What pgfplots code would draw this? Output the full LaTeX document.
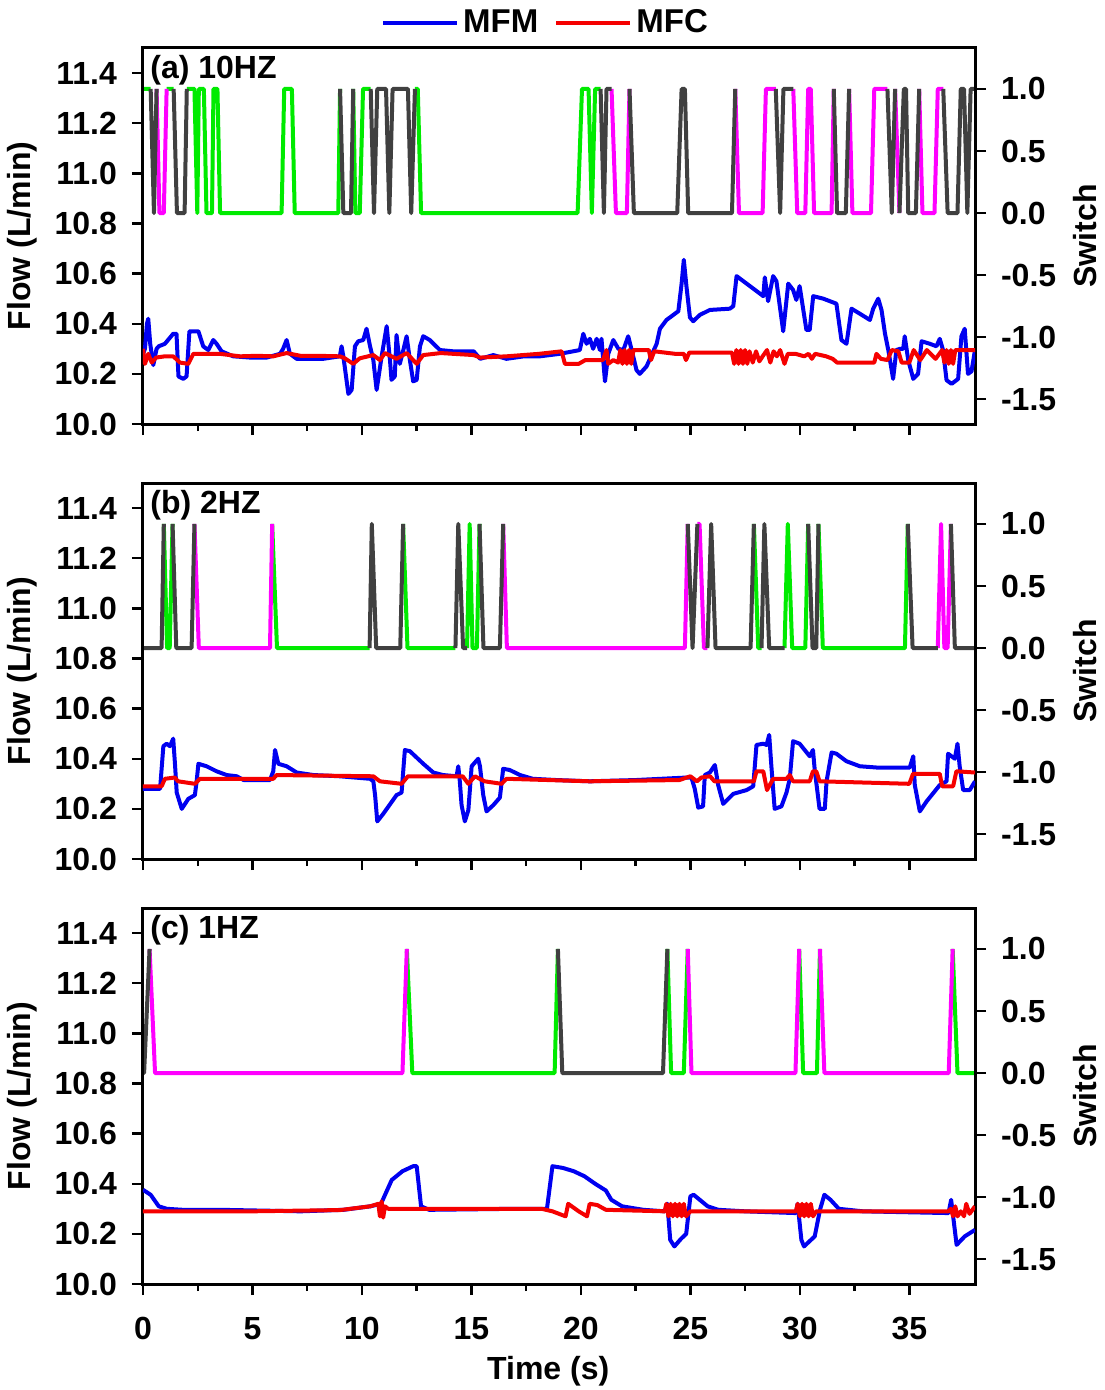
\documentclass[border=0pt]{standalone}
\usepackage{fontspec}
\setmainfont{Liberation Sans}
\usepackage{pgfplots}
\pgfplotsset{compat=1.18}

\definecolor{swgreen}{RGB}{0,235,0}
\definecolor{swmag}{RGB}{255,0,255}
\definecolor{swgray}{RGB}{64,64,64}
\definecolor{mfm}{RGB}{0,0,240}
\definecolor{mfc}{RGB}{245,0,0}

\pgfplotsset{
  base/.style={
    scale only axis, width=416pt, height=188pt,
    xmin=0, xmax=38,
    tick align=outside, major tick length=5.5pt, minor tick length=3.5pt,
    every tick/.style={black, line width=1.2pt},
    axis line style={line width=1.5pt},
    /pgf/number format/assume math mode=true,
    tick label style={font=\fontsize{16}{19}\selectfont\bfseries},
    label style={font=\fontsize{16}{19}\selectfont\bfseries},
    anchor=north west,
  },
  flow/.style={
    base, ymin=10, ymax=11.5,
    ytick={10,10.2,10.4,10.6,10.8,11,11.2,11.4},
    xtick={0,5,10,15,20,25,30,35}, minor x tick num=1,
    xtick pos=bottom, ytick pos=left,
    yticklabel style={xshift=-4pt, /pgf/number format/.cd, fixed, fixed zerofill, precision=1},
    xticklabel style={yshift=-7.5pt},
    ylabel={Flow (L/min)},
    ylabel style={at={(axis description cs:-0.145,0.5)}, anchor=center},
  },
  sw/.style={
    base, ymin=-1.7, ymax=1.33,
    ytick={-1.5,-1,-0.5,0,0.5,1},
    axis x line=none, axis y line*=right,
    yticklabel style={xshift=4pt, /pgf/number format/.cd, fixed, fixed zerofill, precision=1},
    ylabel={Switch},
    ylabel style={at={(axis description cs:1.132,0.5)}, anchor=center},
    unbounded coords=jump,
  },
  swline/.style={line width=2pt, line join=round},
  fline/.style={line width=2pt, line join=round},
}

\begin{document}
\begin{tikzpicture}
\path[use as bounding box] (-71.5pt,0pt) rectangle (480.5pt,-695pt);

% ---------------- (a) 10HZ ----------------
\begin{axis}[sw, at={(0,-24pt)}]
\addplot[swline, swgreen] coordinates {
  (0,1)(0.35,1) (0.36,nan)
  (1.08,1)(1.4,1) (1.41,nan)
  (2.0,1)(2.35,1)(2.48,0)(2.55,1)(2.78,1)(2.9,0)(3.15,0)(3.22,1)(3.4,1)(3.52,0)(6.33,0)(6.45,1)(6.8,1)(6.93,0)(8.92,0)(9.0,1) (9.01,nan)
  (9.6,1)(9.7,0)(9.9,0)(10.05,1)(10.4,1) (10.41,nan)
  (12.42,1)(12.55,1)(12.7,0)(19.85,0)(20.05,1)(20.35,1)(20.5,0)(20.65,1)(20.9,1)
};
\addplot[swline, swmag] coordinates {
  (0.62,1)(0.75,0)(0.95,0)(1.08,1) (1.09,nan)
  (21.4,1)(21.6,0)(22.1,0)(22.22,1) (22.23,nan)
  (27.05,1)(27.22,0)(28.3,0)(28.45,1)(28.9,1) (28.91,nan)
  (29.7,1)(29.88,0)(30.25,0)(30.38,1)(30.5,1)(30.65,0)(31.45,0)(31.55,1) (31.56,nan)
  (32.25,1)(32.4,0)(33.25,0)(33.4,1)(34.0,1) (34.01,nan)
  (34.35,1)(34.55,0) (34.56,nan)
  (35.45,1)(35.6,0)(36.15,0)(36.3,1)(36.55,1)
};
\addplot[swline, swgray] coordinates {
  (0.35,1)(0.5,0)(0.62,1) (0.63,nan)
  (1.4,1)(1.55,0)(1.9,0)(2.0,1) (2.01,nan)
  (9.0,1)(9.15,0)(9.5,0)(9.6,1) (9.61,nan)
  (10.4,1)(10.55,0)(10.7,1)(11.1,1)(11.25,0)(11.4,1)(12.1,1)(12.25,0)(12.42,1) (12.43,nan)
  (20.9,1)(21.05,0)(21.17,1)(21.4,1) (21.41,nan)
  (22.22,1)(22.42,0)(24.4,0)(24.6,1)(24.75,1)(24.9,0)(26.9,0)(27.05,1) (27.06,nan)
  (28.9,1)(29.1,0)(29.25,1)(29.7,1) (29.71,nan)
  (31.55,1)(31.7,0)(32.1,0)(32.25,1) (32.26,nan)
  (34.0,1)(34.2,0)(34.35,1) (34.36,nan)
  (34.55,0)(34.75,1)(34.85,1)(34.95,0)(35.3,0)(35.45,1) (35.46,nan)
  (36.55,1)(36.75,0)(37.2,0)(37.35,1)(37.5,1)(37.65,0)(37.8,1)(38,1)
};
\end{axis}
\begin{axis}[flow, at={(0,-24pt)}, xticklabels={},
  legend columns=2,
  legend style={draw=none, fill=none, at={(0.485,1.0)}, anchor=south, yshift=2pt,
    font=\fontsize{16.5}{19}\selectfont\bfseries,
    /tikz/every even column/.append style={column sep=6pt}},
  legend image code/.code={\draw[#1, line width=2pt] (0pt,0pt) -- (37pt,0pt);}]
\addplot[fline, mfm] coordinates {
  (0.0,10.28)(0.09,10.30)(0.18,10.40)(0.24,10.42)(0.33,10.32)(0.47,10.235)(0.62,10.30)(0.72,10.31)(1.0,10.32)(1.38,10.36)(1.53,10.36)(1.62,10.19)(1.84,10.18)(1.99,10.19)(2.12,10.37)(2.53,10.37)(2.75,10.31)(2.98,10.295)(3.21,10.335)(3.36,10.32)(3.59,10.29)(4.12,10.27)(4.9,10.265)(5.65,10.265)(6.26,10.28)(6.4,10.30)(6.56,10.335)(6.71,10.28)(7.02,10.26)(8.23,10.26)(8.99,10.27)(9.07,10.31)(9.15,10.27)(9.38,10.12)(9.53,10.136)(9.68,10.31)(9.83,10.33)(10.06,10.335)(10.21,10.38)(10.37,10.31)(10.52,10.255)(10.67,10.136)(10.9,10.27)(11.13,10.39)(11.28,10.255)(11.35,10.176)(11.5,10.19)(11.58,10.355)(11.73,10.24)(11.89,10.295)(12.04,10.35)(12.19,10.255)(12.34,10.17)(12.5,10.176)(12.65,10.31)(12.8,10.35)(13.1,10.335)(13.56,10.295)(14.17,10.29)(14.78,10.29)(15.1,10.29)(15.4,10.26)(16.0,10.275)(16.6,10.26)(17.4,10.27)(18.13,10.27)(19.04,10.28)(19.65,10.29)(19.95,10.295)(20.11,10.36)(20.26,10.32)(20.41,10.34)(20.56,10.30)(20.72,10.34)(20.87,10.295)(20.94,10.34)(21.1,10.17)(21.25,10.28)(21.48,10.335)(21.71,10.30)(21.94,10.295)(22.16,10.35)(22.32,10.295)(22.54,10.215)(22.69,10.20)(23.0,10.23)(23.46,10.32)(23.61,10.38)(23.91,10.415)(24.45,10.45)(24.6,10.56)(24.7,10.655)(24.82,10.55)(24.98,10.425)(25.13,10.41)(25.43,10.435)(25.89,10.455)(26.8,10.46)(26.96,10.47)(27.11,10.59)(27.57,10.56)(28.18,10.52)(28.33,10.51)(28.4,10.585)(28.55,10.49)(28.78,10.59)(28.93,10.57)(29.24,10.37)(29.47,10.56)(29.69,10.535)(29.84,10.495)(29.99,10.55)(30.3,10.375)(30.45,10.375)(30.61,10.51)(31.07,10.50)(31.37,10.49)(31.67,10.48)(31.9,10.335)(32.13,10.32)(32.36,10.46)(32.74,10.44)(33.2,10.415)(33.35,10.46)(33.58,10.50)(33.73,10.455)(33.89,10.36)(34.04,10.295)(34.26,10.18)(34.41,10.295)(34.57,10.30)(34.72,10.30)(34.79,10.35)(34.95,10.255)(35.18,10.18)(35.4,10.20)(35.56,10.33)(35.94,10.32)(36.24,10.31)(36.39,10.34)(36.54,10.295)(36.7,10.175)(36.93,10.16)(37.23,10.18)(37.38,10.35)(37.53,10.38)(37.68,10.20)(37.84,10.21)(38.0,10.295)
};
\addlegendentry{MFM}
\addplot[fline, mfc] coordinates {
  (0,10.30)(0.09,10.24)(0.24,10.28)(0.4,10.245)(0.6,10.265)(1.0,10.27)(1.38,10.27)(1.69,10.245)(2.07,10.24)(2.3,10.28)(3.0,10.28)(3.5,10.28)(4.43,10.27)(5.2,10.272)(5.95,10.27)(6.56,10.283)(7.2,10.272)(8.0,10.272)(8.99,10.27)(9.2,10.263)(9.6,10.24)(9.9,10.262)(10.52,10.275)(10.82,10.255)(11.05,10.283)(11.35,10.27)(11.58,10.26)(12.04,10.283)(12.5,10.24)(12.8,10.275)(13.6,10.283)(15.1,10.275)(15.4,10.265)(16.6,10.27)(18.1,10.28)(19.12,10.29)(19.27,10.24)(19.9,10.24)(20.2,10.255)(21.0,10.255)(21.17,10.295)(21.25,10.24)(21.48,10.255)(21.7,10.245)(21.8,10.295)(21.9,10.24)(22.0,10.295)(22.1,10.24)(22.2,10.295)(22.3,10.24)(22.4,10.295)(23.1,10.295)(23.2,10.255)(23.35,10.29)(24.3,10.28)(24.7,10.28)(24.8,10.255)(24.95,10.285)(26.9,10.285)(27.0,10.24)(27.1,10.295)(27.2,10.24)(27.3,10.295)(27.4,10.24)(27.5,10.295)(27.6,10.24)(27.7,10.29)(27.85,10.245)(28.0,10.29)(28.15,10.25)(28.3,10.27)(28.5,10.295)(28.65,10.245)(28.8,10.29)(28.95,10.27)(29.1,10.295)(29.3,10.24)(29.45,10.28)(29.8,10.28)(30.2,10.27)(30.4,10.28)(30.55,10.26)(30.7,10.28)(31.2,10.27)(31.5,10.26)(31.7,10.245)(33.4,10.245)(33.5,10.28)(33.7,10.26)(34.0,10.255)(34.2,10.295)(34.5,10.29)(34.65,10.245)(35.0,10.245)(35.2,10.295)(35.5,10.255)(35.8,10.295)(36.2,10.26)(36.5,10.295)(36.6,10.245)(36.7,10.295)(36.8,10.24)(36.9,10.295)(37.0,10.24)(37.1,10.295)(37.3,10.295)(38,10.295)
};
\addlegendentry{MFC}
\node[anchor=north west, inner sep=1pt, xshift=2.5pt, yshift=-2.5pt, font=\fontsize{16}{19}\selectfont\bfseries] at (rel axis cs:0,1) {(a) 10HZ};
\end{axis}

% ---------------- (b) 2HZ ----------------
\begin{axis}[sw, at={(0,-241.5pt)}]
\addplot[swline, swgreen] coordinates {
  (0.95,1)(1.1,0)(1.22,0)(1.35,1) (1.36,nan)
  (5.9,1)(6.12,0)(10.35,0) (10.36,nan)
  (11.88,1)(12.08,0)(14.27,0) (14.28,nan)
  (14.8,0)(14.92,1)(15.05,0)(15.25,0)(15.37,1) (15.38,nan)
  (27.9,1)(28.1,0)(28.25,0) (28.26,nan)
  (29.3,0)(29.45,1)(29.65,0)(30.25,0)(30.38,1) (30.39,nan)
  (30.85,1)(31.05,0)(34.8,0)(34.93,1)
};
\addplot[swline, swmag] coordinates {
  (2.35,1)(2.55,0)(5.8,0)(5.9,1) (5.91,nan)
  (16.45,1)(16.62,0)(24.75,0)(24.88,1) (24.89,nan)
  (25.32,1)(25.42,1)(25.62,0)(25.78,0) (25.79,nan)
  (36.3,0)(36.45,1)(36.6,0)(36.75,0)(36.9,1)
};
\addplot[swline, swgray] coordinates {
  (0,0)(0.85,0)(0.95,1) (0.96,nan)
  (1.35,1)(1.52,0)(2.22,0)(2.35,1) (2.36,nan)
  (10.35,0)(10.45,1)(10.65,0)(11.75,0)(11.88,1) (11.89,nan)
  (14.27,0)(14.4,1)(14.62,0)(14.8,0) (14.81,nan)
  (15.37,1)(15.55,0)(16.3,0)(16.45,1) (16.46,nan)
  (24.88,1)(25.1,0)(25.32,1) (25.33,nan)
  (25.78,0)(25.95,1)(26.15,0)(27.75,0)(27.9,1) (27.91,nan)
  (28.25,0)(28.38,1)(28.6,0)(29.3,0) (29.31,nan)
  (30.38,1)(30.58,0)(30.75,0)(30.85,1) (30.86,nan)
  (34.93,1)(35.15,0)(36.3,0) (36.31,nan)
  (36.9,1)(37.08,0)(38,0)
};
\end{axis}
\begin{axis}[flow, at={(0,-241.5pt)}, xticklabels={}]
\addplot[fline, mfm] coordinates {
  (0,10.28)(0.78,10.28)(0.93,10.45)(1.08,10.46)(1.23,10.45)(1.38,10.48)(1.46,10.38)(1.54,10.265)(1.77,10.20)(2.07,10.24)(2.37,10.255)(2.45,10.31)(2.53,10.38)(2.9,10.37)(3.36,10.35)(3.82,10.335)(4.28,10.33)(4.6,10.315)(5.8,10.315)(5.95,10.35)(6.03,10.435)(6.18,10.38)(6.56,10.37)(7.02,10.345)(7.78,10.335)(9.0,10.33)(10.37,10.32)(10.52,10.31)(10.6,10.255)(10.7,10.15)(10.97,10.18)(11.58,10.255)(11.81,10.265)(11.96,10.435)(12.19,10.43)(12.8,10.38)(13.26,10.345)(13.7,10.335)(14.32,10.33)(14.4,10.37)(14.47,10.31)(14.55,10.215)(14.7,10.15)(14.86,10.195)(15.01,10.37)(15.31,10.40)(15.39,10.37)(15.54,10.255)(15.69,10.19)(16.0,10.215)(16.3,10.245)(16.45,10.36)(16.75,10.355)(17.22,10.335)(17.8,10.32)(18.89,10.315)(20.41,10.31)(22.5,10.315)(24.83,10.325)(25.05,10.325)(25.2,10.28)(25.36,10.205)(25.58,10.21)(25.66,10.335)(25.89,10.345)(26.12,10.375)(26.27,10.295)(26.5,10.22)(26.96,10.26)(27.57,10.275)(27.87,10.29)(28.02,10.455)(28.33,10.46)(28.48,10.455)(28.6,10.495)(28.7,10.37)(28.85,10.2)(29.16,10.21)(29.39,10.265)(29.54,10.32)(29.69,10.47)(29.99,10.46)(30.45,10.41)(30.6,10.435)(30.68,10.355)(30.9,10.20)(31.14,10.20)(31.22,10.31)(31.45,10.425)(31.67,10.42)(32.13,10.39)(32.74,10.37)(33.5,10.365)(35.02,10.365)(35.18,10.41)(35.25,10.295)(35.48,10.19)(35.79,10.23)(36.39,10.295)(36.7,10.31)(36.77,10.42)(37.08,10.40)(37.2,10.46)(37.3,10.37)(37.46,10.275)(37.76,10.275)(38,10.31)
};
\addplot[fline, mfc] coordinates {
  (0,10.29)(0.85,10.29)(1.0,10.32)(1.45,10.325)(1.6,10.31)(2.37,10.30)(2.6,10.32)(5.95,10.32)(6.1,10.335)(10.52,10.33)(10.82,10.31)(11.81,10.30)(12.1,10.33)(14.6,10.33)(14.86,10.30)(15.16,10.33)(15.6,10.31)(16.38,10.30)(16.6,10.32)(20.41,10.31)(24.5,10.315)(24.83,10.325)(25.0,10.33)(25.3,10.31)(25.5,10.325)(25.9,10.33)(26.1,10.31)(27.9,10.31)(28.02,10.35)(28.33,10.35)(28.5,10.275)(28.78,10.32)(29.39,10.32)(29.54,10.335)(29.69,10.31)(30.45,10.31)(30.6,10.35)(30.75,10.35)(30.9,10.31)(35.0,10.30)(35.17,10.34)(36.39,10.34)(36.5,10.29)(37.0,10.29)(37.15,10.35)(38,10.345)
};
\node[anchor=north west, inner sep=1pt, xshift=2.5pt, yshift=-2.5pt, font=\fontsize{16}{19}\selectfont\bfseries] at (rel axis cs:0,1) {(b) 2HZ};
\end{axis}

% ---------------- (c) 1HZ ----------------
\begin{axis}[sw, at={(0,-454pt)}]
\addplot[swline, swgreen] coordinates {
  (12.05,1)(12.3,0)(18.8,0)(18.95,1) (18.96,nan)
  (23.95,1)(24.12,0)(24.7,0)(24.88,1) (24.89,nan)
  (29.97,1)(30.15,0)(30.78,0)(30.92,1) (30.93,nan)
  (36.98,1)(37.2,0)(38,0)
};
\addplot[swline, swmag] coordinates {
  (0.3,1)(0.55,0)(11.85,0)(12.05,1) (12.06,nan)
  (24.88,1)(25.05,0)(29.8,0)(29.97,1) (29.98,nan)
  (30.92,1)(31.12,0)(36.8,0)(36.98,1)
};
\addplot[swline, swgray] coordinates {
  (0,0)(0.05,0)(0.3,1) (0.31,nan)
  (18.95,1)(19.15,0)(23.75,0)(23.95,1)
};
\end{axis}
\begin{axis}[flow, at={(0,-454pt)}, xlabel={Time (s)},
  xlabel style={at={(axis description cs:0.487,-0.232)}, anchor=center}]
\addplot[fline, mfm] coordinates {
  (0,10.376)(0.35,10.356)(0.72,10.31)(1.09,10.30)(1.82,10.296)(3.53,10.296)(7.2,10.29)(9.16,10.296)(10.38,10.31)(10.87,10.32)(11.36,10.415)(11.85,10.45)(12.34,10.47)(12.5,10.47)(12.7,10.31)(13.07,10.296)(16.98,10.30)(18.21,10.30)(18.45,10.30)(18.7,10.47)(19.18,10.463)(19.67,10.45)(20.16,10.43)(20.65,10.40)(21.14,10.373)(21.39,10.336)(21.88,10.31)(22.85,10.296)(23.83,10.29)(23.95,10.32)(24.08,10.176)(24.27,10.15)(24.57,10.18)(24.81,10.20)(25.0,10.35)(25.15,10.356)(25.79,10.31)(26.28,10.296)(27.5,10.29)(29.82,10.283)(29.9,10.32)(30.07,10.176)(30.19,10.15)(30.68,10.19)(30.92,10.296)(31.12,10.356)(31.4,10.336)(31.78,10.30)(32.88,10.29)(36.79,10.283)(36.91,10.336)(37.16,10.156)(37.53,10.19)(38.0,10.216)
};
\addplot[fline, mfc] coordinates {
  (0,10.29)(5,10.29)(9,10.295)(10.38,10.31)(10.75,10.32)(10.82,10.27)(10.9,10.33)(10.97,10.265)(11.05,10.31)(11.2,10.30)(18.21,10.30)(18.7,10.29)(19.3,10.27)(19.42,10.32)(19.9,10.29)(20.28,10.27)(20.4,10.32)(20.75,10.315)(21.14,10.296)(23.83,10.29)(23.9,10.32)(24.0,10.27)(24.1,10.32)(24.2,10.27)(24.3,10.32)(24.4,10.27)(24.5,10.32)(24.6,10.27)(24.7,10.32)(24.8,10.27)(25.0,10.29)(29.82,10.29)(29.9,10.32)(30.0,10.27)(30.1,10.32)(30.2,10.27)(30.3,10.32)(30.4,10.27)(30.5,10.32)(30.6,10.27)(30.75,10.29)(36.79,10.29)(36.9,10.30)(37.0,10.27)(37.1,10.31)(37.2,10.27)(37.35,10.29)(37.5,10.27)(37.6,10.32)(37.75,10.28)(38,10.31)
};
\node[anchor=north west, inner sep=1pt, xshift=2.5pt, yshift=-2.5pt, font=\fontsize{16}{19}\selectfont\bfseries] at (rel axis cs:0,1) {(c) 1HZ};
\end{axis}
\end{tikzpicture}
\end{document}
